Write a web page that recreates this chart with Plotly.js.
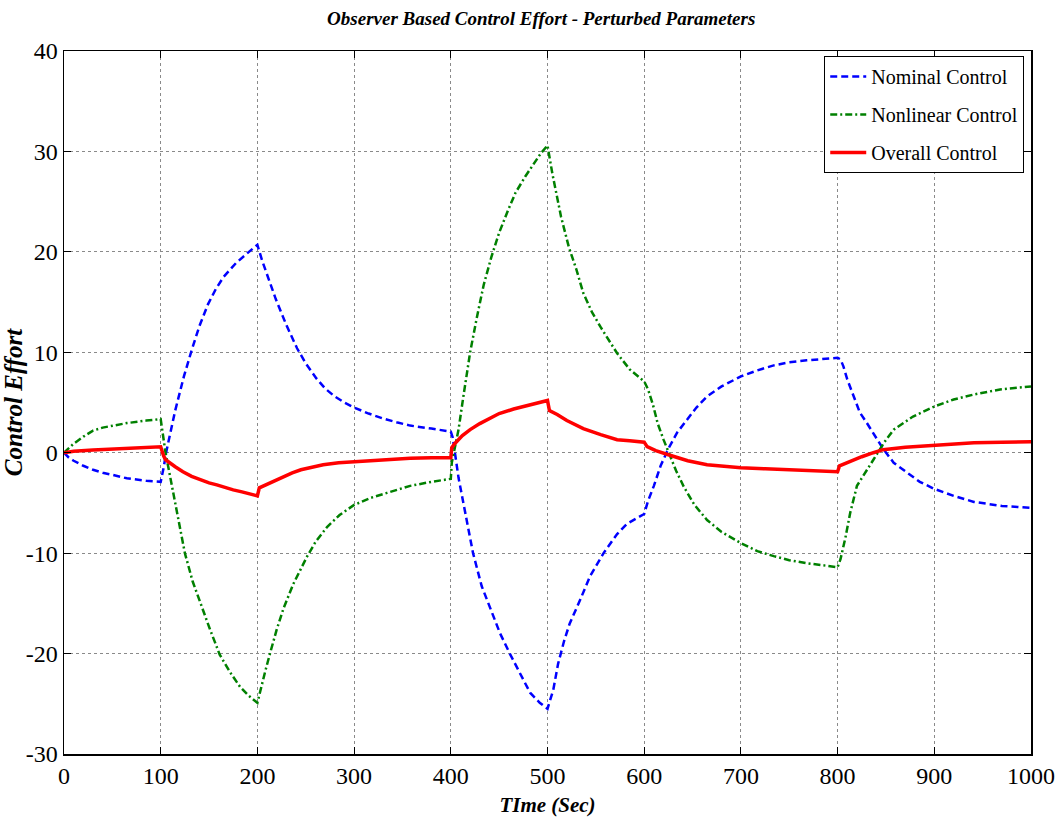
<!DOCTYPE html>
<html>
<head>
<meta charset="utf-8">
<script src="https://cdn.plot.ly/plotly-3.0.1.min.js"></script>
<style>
html,body{margin:0;padding:0;background:#fff;}
#chart{width:1055px;height:822px;}
</style>
</head>
<body>
<div id="chart"></div>
<script>
// Nominal control (blue dashed)
const nominalTime = [0,5,10,20,30,40,50,65,85,100, 103,106,115,124,132,140,149,157,165,178,190,200, 205,212,219,230,241,250,261,270,280,290,300, 315,330,345,358,380,400, 402,404,408,413,418,423,432,441,451,461,472,482,492,500, 506,511,517,523,534,544,558,572,582,600, 604,610,617,625,634,644,654,665,680,700,717,734,750,768,785,800, 803,806,810,816,823,830,847,858,872,885,900,920,941,970,1000];
const nominalValues = [0,-0.5,-0.8,-1.3,-1.7,-2.0,-2.2,-2.55,-2.8,-2.9, -1.5,0.2,4.2,7.6,10.2,12.6,14.8,16.3,17.5,18.9,19.9,20.7, 19.1,17.1,15.3,12.7,10.4,8.9,7.4,6.4,5.6,5.0,4.5, 3.9,3.4,3.0,2.7,2.4,2.1, 1.5,0.3,-2.5,-5,-7.5,-10,-13.3,-15.6,-18,-20,-22.1,-23.9,-24.9,-25.5, -23.6,-21,-18.8,-17,-14.6,-12.3,-10,-8.1,-7.1,-6.1, -4.8,-3.3,-1.3,0.4,2.0,3.3,4.5,5.6,6.6,7.6,8.2,8.7,9.0,9.2,9.35,9.45, 9.3,8.6,7.3,5.7,4.0,3.0,0.4,-1.0,-2.0,-2.9,-3.6,-4.3,-4.9,-5.3,-5.5];

// Nonlinear control (green dash-dot)
const nonlinearTime = [0,5,10,20,30,40,50,65,85,100, 102,105,109,117,125,133,141,151,161,172,182,191,200, 204,208,213,220,227,237,251,260,272,285,300, 317,334,358,380,400, 401,404,408,413,420,427,434,442,450,459,467,477,486,493,500, 505,514,522,530,537,546,555,572,585,600, 604,609,614,620,626,633,641,652,665,680,700,717,734,750,768,785,800, 803,808,813,820,837,848,858,878,900,920,941,968,1000];
const nonlinearValues = [0,0.5,0.9,1.6,2.2,2.5,2.7,2.95,3.2,3.35, 2.0,0,-2.0,-6,-10,-12.8,-15,-17.6,-20.1,-21.9,-23.3,-24.2,-24.9, -23.2,-21.8,-20,-17.6,-15.5,-13.1,-10.4,-8.9,-7.4,-6.2,-5.2, -4.5,-4.0,-3.3,-2.9,-2.6, -1.0,0.3,2.3,5.6,10,13.5,16.7,19.5,21.9,24.1,25.9,27.5,28.8,29.8,30.6, 27.8,23.5,20.5,18.2,15.9,14.0,12.5,9.9,8.3,7.1, 6.3,4.8,2.9,1.3,-0.2,-1.8,-3.4,-5.2,-6.7,-7.9,-9.0,-9.8,-10.3,-10.7,-11.0,-11.25,-11.4, -10.6,-8.5,-6.0,-3.3,-0.7,1.0,2.3,3.6,4.6,5.3,5.8,6.3,6.6];

// Overall control (red solid)
const overallTime = [0,10,30,50,65,80,98,100, 103,105,115,123,132,141,150,158,167,175,184,193,200, 202,215,227,236,245,256,268,284,300, 331,358,380,400, 401,404,412,420,430,440,450,465,480,494,500, 502,510,520,537,555,572,585,598,600, 603,612,625,645,665,682,700,725,751,775,800, 802,812,825,837,847,870,900,941,970,1000];
const overallValues = [0,0.15,0.27,0.35,0.4,0.5,0.6,0.6, -0.3,-0.7,-1.4,-1.9,-2.35,-2.7,-3.0,-3.2,-3.5,-3.7,-3.9,-4.1,-4.3, -3.5,-2.9,-2.4,-2.0,-1.7,-1.45,-1.2,-1.0,-0.9, -0.66,-0.55,-0.5,-0.5, 0.5,0.9,1.7,2.3,2.9,3.45,3.9,4.35,4.75,5.1,5.2, 4.2,3.8,3.2,2.4,1.8,1.3,1.2,1.1,1.05, 0.6,0.2,-0.2,-0.8,-1.2,-1.38,-1.5,-1.6,-1.7,-1.8,-1.9, -1.3,-0.9,-0.4,0.0,0.3,0.55,0.75,1.0,1.05,1.1];

const seriesNames = ["Nominal Control", "Nonlinear Control", "Overall Control"];
const xTicks = [0, 100, 200, 300, 400, 500, 600, 700, 800, 900, 1000];
const yTicks = [-30, -20, -10, 0, 10, 20, 30, 40];

const FONT = "Liberation Serif, Times New Roman, serif";

const traces = [
  {x: nominalTime, y: nominalValues, name: seriesNames[0], mode: "lines", legendgroup: "g1",
   line: {color: "#0000ff", width: 2.5, dash: "7px,4px"}},
  {x: nonlinearTime, y: nonlinearValues, name: seriesNames[1], mode: "lines", legendgroup: "g2",
   line: {color: "#008000", width: 2.5, dash: "7px,3px,2px,3px"}},
  {x: overallTime, y: overallValues, name: seriesNames[2], mode: "lines", legendgroup: "g3",
   line: {color: "#ff0000", width: 3.5}}
];

const axisCommon = {
  showline: true, linecolor: "#000", linewidth: 1.5, mirror: "ticks",
  ticks: "inside", ticklen: 7, tickcolor: "#000", tickwidth: 1,
  showgrid: true, gridcolor: "#8a8a8a", griddash: "dot", gridwidth: 1,
  zeroline: false,
  tickfont: {family: FONT, size: 24, color: "#000"}
};

const layout = {
  width: 1055, height: 822,
  margin: {l: 64, r: 24, t: 51, b: 68},
  paper_bgcolor: "#fff", plot_bgcolor: "#fff",
  showlegend: true,
  title: {text: "<b><i>Observer Based Control Effort - Perturbed Parameters</i></b>",
          font: {family: FONT, size: 19, color: "#000"},
          x: 0.513, xanchor: "center", y: 0.978, yanchor: "middle"},
  xaxis: Object.assign({}, axisCommon, {
    range: [0, 1000], tickvals: xTicks, ticktext: xTicks.map(String),
    title: {text: "<b><i>TIme (Sec)</i></b>", font: {family: FONT, size: 21, color: "#000"}, standoff: 9}
  }),
  yaxis: Object.assign({}, axisCommon, {
    range: [-30, 40], tickvals: yTicks, ticktext: yTicks.map(String),
    title: {text: "<b><i>Control Effort</i></b>", font: {family: FONT, size: 25, color: "#000"}, standoff: 0}
  }),
  legend: {
    x: 0.993, xanchor: "right", y: 0.993, yanchor: "top",
    bgcolor: "#fff", bordercolor: "#000", borderwidth: 1,
    font: {family: FONT, size: 20, color: "#000"},
    itemwidth: 36, tracegroupgap: 9
  }
};

Plotly.newPlot("chart", traces, layout, {staticPlot: true, displayModeBar: false});
</script>
</body>
</html>
